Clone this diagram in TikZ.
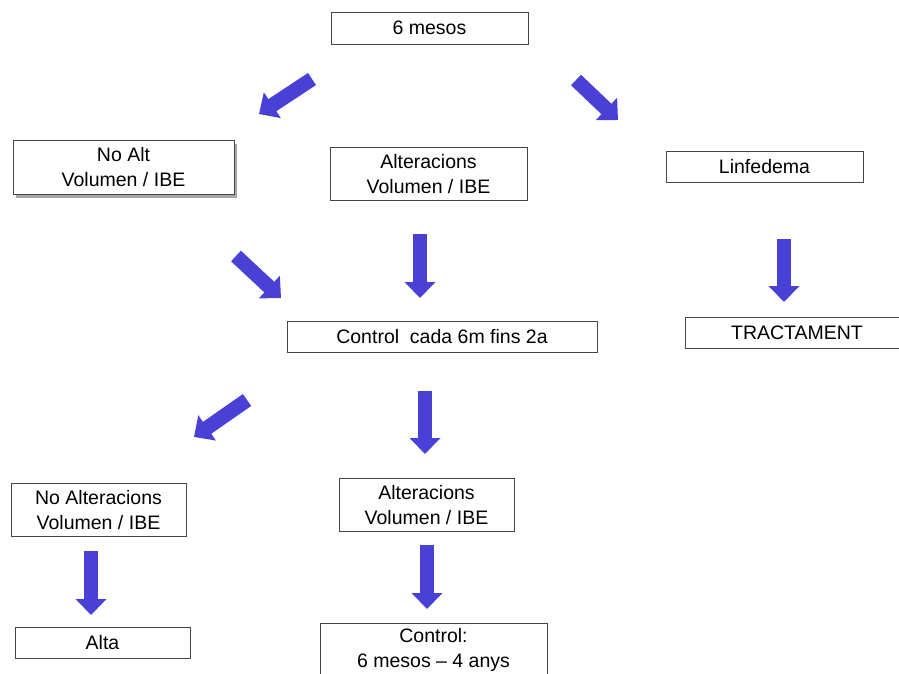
\documentclass[tikz,border=0pt]{standalone}
\usepackage{fontspec}
\setmainfont{Liberation Sans}
\usetikzlibrary{arrows.meta,shadows}
\definecolor{arrowblue}{RGB}{73,64,214}
\definecolor{boxline}{RGB}{70,70,70}
\tikzset{
  box/.style={draw=boxline, line width=0.8pt, fill=white, font=\fontsize{19.5}{25}\selectfont, align=center, inner sep=0pt},
  shadowbox/.style={box, drop shadow={shadow xshift=3pt, shadow yshift=-3pt, fill=gray!70, opacity=1}},
  barrow/.style={draw=arrowblue, line width=14.5pt, -{Triangle[length=16pt,width=30pt]}}
}
\begin{document}
\begin{tikzpicture}[x=1pt,y=-1pt]
\useasboundingbox (0,0) rectangle (899,673);
\clip (0,0) rectangle (899,673);
\node[box, minimum width=197pt, minimum height=32pt] (m6) at (429.5,28) {6 mesos};
\node[shadowbox, minimum width=221pt, minimum height=54pt] (noalt) at (123.5,167.5) {No Alt\\Volumen / IBE};
\node[box, minimum width=197pt, minimum height=53pt] (alt1) at (428.5,174) {Alteracions\\Volumen / IBE};
\node[box, minimum width=197pt, minimum height=31pt] (linf) at (764.5,166.5) {Linfedema};
\node[box, minimum width=310pt, minimum height=31pt] (ctrl) at (442,336.5) {Control\ \ cada 6m fins 2a};
\node[box, minimum width=224pt, minimum height=31pt] (tract) at (797,332.5) {TRACTAMENT};
\node[box, minimum width=175pt, minimum height=53pt] (noalt2) at (98.5,510) {No Alteracions\\Volumen / IBE};
\node[box, minimum width=175pt, minimum height=53pt] (alt2) at (426.5,505) {Alteracions\\Volumen / IBE};
\node[box, minimum width=175pt, minimum height=31pt] (alta) at (102.5,642.5) {Alta};
\node[box, minimum width=227pt, minimum height=54pt, anchor=north] (ctrl2) at (433.5,623) {Control:\\6 mesos -- 4 anys};
% arrow end points
\coordinate (a1s) at (312,79);  \coordinate (a1e) at (259,114);
\coordinate (a2s) at (576,80);  \coordinate (a2e) at (618,120);
\coordinate (a3s) at (236,256); \coordinate (a3e) at (281,298);
\coordinate (a4s) at (420,234); \coordinate (a4e) at (420,298);
\coordinate (a5s) at (784,239); \coordinate (a5e) at (784,302);
\coordinate (a6s) at (247,400); \coordinate (a6e) at (194,437);
\coordinate (a7s) at (425,391); \coordinate (a7e) at (425,454);
\coordinate (a8s) at (91,551);  \coordinate (a8e) at (91,615);
\coordinate (a9s) at (427,545); \coordinate (a9e) at (427,609);
\foreach \i in {1,...,9} \draw[barrow] (a\i s) -- (a\i e);
\end{tikzpicture}
\end{document}
